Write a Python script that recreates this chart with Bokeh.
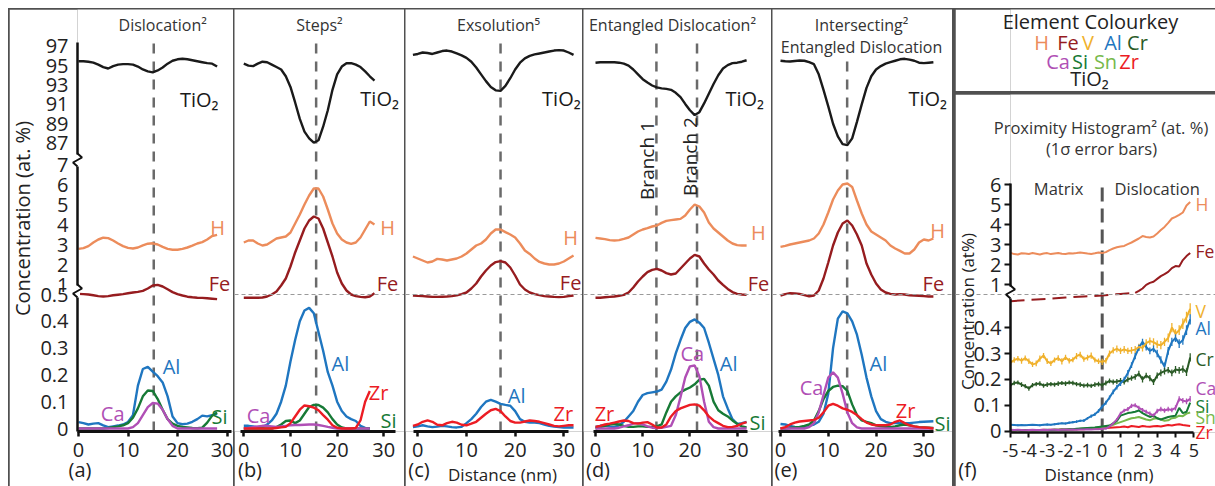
import math
from bokeh.plotting import figure
from bokeh.models import Range1d, FixedTicker, Span, Label
from bokeh.layouts import row, column
from bokeh.embed import file_html
from bokeh.resources import INLINE

# ======================= DATA =======================
X_TICKS = [0, 10, 20, 30]
TOP_TICKS = [97, 95, 93, 91, 89, 87]
MID_TICKS = [7, 6, 5, 4, 3, 2, 1]
LOW_TICKS = [0.5, 0.4, 0.3, 0.2, 0.1, 0]
F_X_TICKS = [-5, -4, -3, -2, -1, 0, 1, 2, 3, 4, 5]
F_MID_TICKS = [6, 5, 4, 3, 2, 1]
F_LOW_TICKS = [0.4, 0.3, 0.2, 0.1, 0]

# dislocation positions (nm)
DISLOC_A = [15.2]
DISLOC_B = [15.5]
DISLOC_C = [17.0]
DISLOC_D = [12.9, 21.5]
DISLOC_E = [13.95]
DISLOC_F = [0.0]

# ---- (a) Dislocation ----
A_X = [0, 1, 2, 3, 4, 5, 6, 7, 8, 9, 10, 11, 12, 13, 14, 15, 16, 17, 18, 19, 20, 21, 22, 23, 24, 25, 26, 27, 28]
A_TIO2 = [95.45, 95.45, 95.4, 95.3, 95.1, 94.85, 94.7, 94.95, 95.1, 95.15, 95.15, 95.1, 94.9, 94.6, 94.4, 94.3, 94.5, 94.8, 95.2, 95.5, 95.65, 95.7, 95.65, 95.55, 95.45, 95.35, 95.25, 95.2, 94.9]
A_H = [2.78, 2.82, 2.92, 3.1, 3.25, 3.34, 3.32, 3.2, 3.05, 2.92, 2.83, 2.8, 2.85, 2.96, 3.04, 3.06, 3.0, 2.88, 2.78, 2.74, 2.74, 2.78, 2.85, 2.94, 3.05, 3.12, 3.25, 3.42, 3.48]
A_FE = [0.53, 0.52, 0.5, 0.46, 0.42, 0.4, 0.42, 0.46, 0.49, 0.52, 0.56, 0.6, 0.63, 0.68, 0.8, 0.95, 0.98, 0.9, 0.76, 0.62, 0.52, 0.45, 0.39, 0.36, 0.34, 0.33, 0.31, 0.29, 0.27]
A_AL = [0.024, 0.02, 0.015, 0.018, 0.02, 0.012, 0.005, 0.008, 0.011, 0.015, 0.024, 0.05, 0.16, 0.222, 0.23, 0.212, 0.195, 0.172, 0.12, 0.045, 0.02, 0.016, 0.018, 0.025, 0.035, 0.048, 0.045, 0.05, 0.055]
A_SI = [0, 0, 0, 0, 0, 0, 0.002, 0.005, 0.008, 0.012, 0.02, 0.04, 0.075, 0.12, 0.142, 0.14, 0.11, 0.07, 0.035, 0.018, 0.01, 0.006, 0.004, 0.002, 0.001, 0.003, 0.022, 0.048, 0.06]
A_CA = [0, 0, 0, 0, 0, 0, 0, 0, 0, 0, 0, 0.005, 0.02, 0.05, 0.08, 0.095, 0.093, 0.07, 0.035, 0.01, 0, 0, 0, 0, 0, 0, 0, 0, 0]

# ---- (b) Steps ----
B_X = [0, 1, 2, 3, 4, 5, 6, 7, 8, 9, 10, 11, 12, 13, 14, 15, 16, 17, 18, 19, 20, 21, 22, 23, 24, 25, 26, 27, 28]
B_TIO2 = [95.2, 95.0, 94.95, 95.2, 95.4, 95.35, 95.1, 94.85, 94.6, 93.9, 92.8, 91.2, 89.5, 88.2, 87.5, 87.05, 87.3, 88.7, 90.4, 92.5, 94.1, 94.9, 95.25, 95.25, 95.1, 94.85, 94.4, 93.9, 93.45]
B_H = [3.1, 3.2, 3.2, 3.05, 2.95, 3.0, 3.15, 3.3, 3.35, 3.4, 3.6, 4.05, 4.5, 5.0, 5.45, 5.8, 5.8, 5.4, 4.75, 4.05, 3.55, 3.25, 3.1, 3.03, 3.1, 3.35, 3.75, 4.15, 4.0]
B_FE = [0.34, 0.34, 0.34, 0.34, 0.35, 0.4, 0.5, 0.65, 0.95, 1.3, 1.9, 2.6, 3.2, 3.8, 4.2, 4.4, 4.3, 3.8, 3.1, 2.4, 1.6, 1.05, 0.7, 0.5, 0.42, 0.38, 0.36, 0.4, 0.56]
B_XL = [0, 1, 2, 3, 4, 5, 6, 7, 8, 9, 10, 11, 12, 13, 14, 15, 16, 17, 18, 19, 20, 21, 22, 23, 24, 25, 26, 27]
B_AL = [0.01, 0.01, 0.008, 0.004, 0.005, 0.015, 0.03, 0.055, 0.1, 0.16, 0.25, 0.33, 0.4, 0.44, 0.45, 0.43, 0.36, 0.29, 0.21, 0.16, 0.1, 0.065, 0.045, 0.035, 0.028, 0.01, 0.002, 0.0]
B_ZR = [0, 0, 0, 0, 0, 0, 0, 0.002, 0.004, 0.006, 0.02, 0.045, 0.07, 0.086, 0.083, 0.078, 0.068, 0.05, 0.033, 0.012, 0.003, 0.0, 0.0, 0.0, 0.002, 0.03, 0.1, 0.14]
B_SI = [0, 0, 0, 0, 0, 0, 0, 0.005, 0.015, 0.028, 0.03, 0.02, 0.03, 0.055, 0.08, 0.088, 0.088, 0.078, 0.06, 0.035, 0.015, 0.004, 0, 0, 0, 0, 0, 0]
B_CA = [0.0, 0.002, 0.005, 0.008, 0.01, 0.01, 0.008, 0.006, 0.008, 0.01, 0.012, 0.013, 0.013, 0.014, 0.015, 0.015, 0.013, 0.01, 0.006, 0.003, 0.0, 0, 0, 0, 0, 0, 0, 0]

# ---- (c) Exsolution ----
C_X = [-1, 0, 1, 2, 3, 4, 5, 6, 7, 8, 9, 10, 11, 12, 13, 14, 15, 16, 17, 18, 19, 20, 21, 22, 23, 24, 25, 26, 27, 28, 29, 30, 31, 32]
C_TIO2 = [96.1, 96.2, 96.35, 96.3, 96.2, 96.35, 96.5, 96.55, 96.45, 96.25, 96.05, 95.8, 95.4, 94.8, 94.1, 93.4, 92.8, 92.45, 92.4, 92.9, 93.7, 94.6, 95.3, 95.75, 96.0, 96.15, 96.25, 96.35, 96.45, 96.55, 96.6, 96.55, 96.35, 96.1]
C_H = [2.4, 2.3, 2.2, 2.1, 2.15, 2.28, 2.25, 2.2, 2.25, 2.3, 2.4, 2.55, 2.75, 2.95, 3.05, 3.25, 3.55, 3.75, 3.75, 3.62, 3.5, 3.35, 3.05, 2.7, 2.53, 2.3, 2.13, 2.05, 2.0, 2.0, 2.05, 2.15, 2.3, 2.45]
C_FE = [0.45, 0.43, 0.42, 0.4, 0.38, 0.38, 0.39, 0.4, 0.42, 0.46, 0.52, 0.6, 0.8, 1.05, 1.4, 1.7, 1.95, 2.12, 2.17, 2.1, 1.85, 1.45, 1.0, 0.75, 0.6, 0.52, 0.47, 0.42, 0.4, 0.38, 0.37, 0.38, 0.42, 0.45]
C_AL = [0.005, 0.008, 0.012, 0.008, 0.005, 0.007, 0.01, 0.008, 0.005, 0.004, 0.006, 0.02, 0.035, 0.055, 0.08, 0.1, 0.107, 0.1, 0.092, 0.088, 0.085, 0.065, 0.035, 0.025, 0.022, 0.022, 0.02, 0.015, 0.01, 0.007, 0.005, 0.004, 0.004, 0.004]
C_ZR = [0.01, 0.015, 0.025, 0.03, 0.025, 0.014, 0.012, 0.02, 0.025, 0.022, 0.014, 0.012, 0.018, 0.025, 0.04, 0.055, 0.068, 0.073, 0.065, 0.045, 0.028, 0.022, 0.022, 0.026, 0.03, 0.028, 0.025, 0.02, 0.015, 0.01, 0.008, 0.01, 0.012, 0.012]

# ---- (d) Entangled dislocation ----
D_X = [0, 1, 2, 3, 4, 5, 6, 7, 8, 9, 10, 11, 12, 13, 14, 15, 16, 17, 18, 19, 20, 21, 22, 23, 24, 25, 26, 27, 28, 29, 30, 31, 32]
D_TIO2 = [95.3, 95.35, 95.35, 95.35, 95.35, 95.3, 95.2, 95.0, 94.6, 94.1, 93.6, 93.25, 92.95, 92.75, 92.65, 92.6, 92.5, 92.2, 91.75, 91.05, 90.4, 89.9, 90.2, 91.1, 92.1, 93.1, 94.0, 94.7, 95.05, 95.25, 95.3, 95.4, 95.55]
D_H = [3.33, 3.3, 3.27, 3.22, 3.2, 3.22, 3.28, 3.35, 3.5, 3.65, 3.75, 3.82, 3.9, 3.95, 4.08, 4.18, 4.22, 4.25, 4.28, 4.45, 4.75, 5.0, 4.9, 4.6, 4.1, 3.8, 3.6, 3.4, 3.2, 3.05, 2.97, 2.95, 2.95]
D_FE = [0.34, 0.34, 0.36, 0.38, 0.4, 0.44, 0.48, 0.6, 0.85, 1.15, 1.4, 1.62, 1.73, 1.78, 1.7, 1.57, 1.5, 1.55, 1.8, 2.05, 2.3, 2.48, 2.4, 2.05, 1.75, 1.5, 1.2, 0.98, 0.78, 0.62, 0.53, 0.5, 0.48]
D_AL = [0.006, 0.01, 0.011, 0.007, 0.005, 0.012, 0.025, 0.045, 0.065, 0.1, 0.125, 0.132, 0.135, 0.138, 0.145, 0.175, 0.22, 0.28, 0.33, 0.375, 0.398, 0.407, 0.395, 0.375, 0.32, 0.26, 0.2, 0.12, 0.075, 0.035, 0.017, 0.02, 0.025]
D_CA = [0, 0, 0, 0, 0, 0.003, 0.008, 0.012, 0.018, 0.02, 0.015, 0.008, 0.003, 0.002, 0.003, 0.006, 0.01, 0.05, 0.117, 0.19, 0.232, 0.235, 0.195, 0.1, 0.025, 0.005, 0, 0, 0, 0, 0, 0, 0]
D_SI = [0.0, 0.005, 0.01, 0.015, 0.017, 0.015, 0.01, 0.006, 0.006, 0.008, 0.008, 0.006, 0.006, 0.008, 0.015, 0.06, 0.1, 0.12, 0.135, 0.145, 0.153, 0.165, 0.182, 0.185, 0.16, 0.1, 0.068, 0.055, 0.045, 0.03, 0.018, 0.008, 0.004]
D_ZR = [0.006, 0.01, 0.015, 0.018, 0.022, 0.026, 0.03, 0.028, 0.02, 0.018, 0.022, 0.024, 0.015, 0.004, 0.004, 0.015, 0.045, 0.065, 0.075, 0.082, 0.088, 0.09, 0.085, 0.068, 0.045, 0.03, 0.02, 0.01, 0.005, 0.006, 0.01, 0.018, 0.024]

# ---- (e) Intersecting entangled dislocation ----
E_X = [0, 1, 2, 3, 4, 5, 6, 7, 8, 9, 10, 11, 12, 13, 14, 15, 16, 17, 18, 19, 20, 21, 22, 23, 24, 25, 26, 27, 28, 29, 30, 31, 32]
E_TIO2 = [95.5, 95.45, 95.42, 95.48, 95.52, 95.5, 95.35, 95.15, 94.1, 92.5, 90.8, 89.0, 87.7, 86.9, 86.8, 87.5, 89.2, 91.0, 92.7, 93.9, 94.6, 94.95, 95.2, 95.35, 95.5, 95.65, 95.7, 95.62, 95.5, 95.3, 95.25, 95.3, 95.35]
E_H = [2.88, 2.93, 3.0, 3.05, 3.1, 3.15, 3.2, 3.3, 3.55, 4.0, 4.6, 5.25, 5.7, 6.0, 6.05, 5.88, 5.2, 4.55, 4.0, 3.65, 3.5, 3.35, 3.2, 2.95, 2.8, 2.68, 2.55, 2.55, 2.75, 3.1, 3.25, 3.2, 3.3]
E_FE = [0.45, 0.52, 0.56, 0.55, 0.53, 0.47, 0.41, 0.45, 0.7, 1.3, 2.1, 2.95, 3.6, 4.05, 4.2, 3.95, 3.5, 2.95, 2.05, 1.5, 1.05, 0.75, 0.6, 0.53, 0.5, 0.52, 0.5, 0.46, 0.45, 0.44, 0.42, 0.4, 0.4]
E_AL = [0.017, 0.015, 0.01, 0.006, 0.005, 0.006, 0.01, 0.015, 0.025, 0.055, 0.13, 0.3, 0.41, 0.437, 0.43, 0.4, 0.35, 0.275, 0.19, 0.12, 0.065, 0.035, 0.025, 0.02, 0.02, 0.02, 0.02, 0.02, 0.022, 0.024, 0.025, 0.026, 0.027]
E_CA = [0, 0, 0, 0, 0, 0, 0.005, 0.02, 0.06, 0.125, 0.19, 0.21, 0.19, 0.13, 0.06, 0.02, 0.004, 0, 0, 0, 0, 0, 0, 0, 0, 0, 0, 0, 0, 0, 0, 0, 0]
E_SI = [0.0, 0.0, 0.002, 0.004, 0.006, 0.01, 0.015, 0.03, 0.065, 0.11, 0.14, 0.155, 0.16, 0.158, 0.14, 0.09, 0.05, 0.03, 0.025, 0.02, 0.012, 0.008, 0.006, 0.005, 0.008, 0.012, 0.015, 0.012, 0.008, 0.005, 0.004, 0.003, 0.002]
E_ZR = [0.0, 0.005, 0.015, 0.022, 0.026, 0.028, 0.03, 0.032, 0.04, 0.06, 0.085, 0.092, 0.085, 0.075, 0.07, 0.062, 0.05, 0.035, 0.022, 0.015, 0.012, 0.012, 0.012, 0.015, 0.025, 0.03, 0.02, 0.012, 0.008, 0.005, 0.004, 0.003, 0.0]

# ---- (f) Proximity histogram ----
F_X = [-5.0, -4.8, -4.6, -4.4, -4.2, -4.0, -3.8, -3.6, -3.4, -3.2, -3.0, -2.8, -2.6, -2.4, -2.2, -2.0, -1.8, -1.6, -1.4, -1.2,
       -1.0, -0.8, -0.6, -0.4, -0.2, 0.0, 0.2, 0.4, 0.6, 0.8, 1.0, 1.2, 1.4, 1.6, 1.8, 2.0, 2.2, 2.4, 2.6, 2.8,
       3.0, 3.2, 3.4, 3.6, 3.8, 4.0, 4.2, 4.4, 4.6, 4.8]
F_H = [2.58, 2.52, 2.5, 2.56, 2.55, 2.53, 2.57, 2.54, 2.5, 2.55, 2.57, 2.52, 2.55, 2.58, 2.54, 2.52, 2.56, 2.55, 2.57, 2.6,
       2.58, 2.55, 2.53, 2.56, 2.6, 2.57, 2.62, 2.72, 2.8, 2.86, 2.9, 2.93, 3.02, 3.1, 3.2, 3.3, 3.42, 3.38, 3.35, 3.4,
       3.55, 3.72, 3.88, 4.08, 4.3, 4.38, 4.48, 4.6, 4.95, 5.12]
F_FE_X_LOW = [-5.0, -4.0, -3.0, -2.0, -1.0, 0.0, 1.0, 1.8]
F_FE_LOW = [0.502, 0.507, 0.511, 0.516, 0.52, 0.524, 0.53, 0.534]
F_FE_X_MID = [1.8, 2.0, 2.2, 2.4, 2.6, 2.8, 3.0, 3.2, 3.4, 3.6, 3.8, 4.0, 4.2, 4.4, 4.6, 4.8]
F_FE_MID = [0.58, 0.68, 0.8, 0.98, 1.08, 1.14, 1.28, 1.42, 1.52, 1.63, 1.82, 1.92, 1.9, 2.22, 2.42, 2.58]
F_V = [0.265, 0.275, 0.28, 0.272, 0.282, 0.27, 0.258, 0.262, 0.28, 0.292, 0.27, 0.262, 0.275, 0.282, 0.27, 0.285, 0.272, 0.276, 0.29, 0.296,
       0.278, 0.284, 0.292, 0.275, 0.27, 0.268, 0.272, 0.3, 0.312, 0.318, 0.31, 0.316, 0.31, 0.312, 0.315, 0.325, 0.322, 0.34, 0.348, 0.344,
       0.335, 0.332, 0.345, 0.36, 0.4, 0.376, 0.39, 0.415, 0.44, 0.472]
F_AL = [0.025, 0.024, 0.023, 0.024, 0.023, 0.024, 0.025, 0.024, 0.023, 0.025, 0.026, 0.025, 0.027, 0.029, 0.031, 0.03, 0.033, 0.035, 0.037, 0.04,
        0.041, 0.05, 0.058, 0.065, 0.078, 0.095, 0.11, 0.13, 0.152, 0.17, 0.185, 0.2, 0.225, 0.255, 0.29, 0.322, 0.345, 0.325, 0.31, 0.318,
        0.3, 0.275, 0.25, 0.31, 0.345, 0.36, 0.338, 0.352, 0.39, 0.432]
F_CR = [0.178, 0.186, 0.188, 0.18, 0.174, 0.165, 0.178, 0.182, 0.184, 0.176, 0.18, 0.182, 0.18, 0.184, 0.186, 0.184, 0.188, 0.186, 0.182, 0.18,
        0.176, 0.178, 0.175, 0.18, 0.182, 0.178, 0.186, 0.194, 0.19, 0.192, 0.195, 0.19, 0.2, 0.205, 0.21, 0.222, 0.2, 0.215, 0.205, 0.19,
        0.215, 0.225, 0.232, 0.236, 0.225, 0.238, 0.235, 0.24, 0.228, 0.285]
F_CA = [0.006, 0.005, 0.006, 0.005, 0.004, 0.005, 0.006, 0.005, 0.005, 0.006, 0.005, 0.006, 0.006, 0.005, 0.006, 0.007, 0.006, 0.007, 0.006, 0.007,
        0.007, 0.008, 0.007, 0.008, 0.008, 0.009, 0.01, 0.018, 0.03, 0.045, 0.068, 0.08, 0.085, 0.098, 0.1, 0.09, 0.082, 0.075, 0.068, 0.06,
        0.078, 0.085, 0.08, 0.085, 0.082, 0.09, 0.125, 0.118, 0.115, 0.125]
F_SI = [0.004, 0.004, 0.005, 0.004, 0.004, 0.005, 0.005, 0.004, 0.005, 0.005, 0.006, 0.005, 0.006, 0.006, 0.007, 0.007, 0.008, 0.008, 0.009, 0.01,
        0.011, 0.012, 0.013, 0.014, 0.016, 0.018, 0.02, 0.022, 0.03, 0.04, 0.06, 0.065, 0.07, 0.072, 0.075, 0.08, 0.07, 0.062, 0.055, 0.06,
        0.05, 0.045, 0.05, 0.055, 0.058, 0.06, 0.09, 0.07, 0.075, 0.11]
F_SN = [0.003, 0.003, 0.004, 0.003, 0.004, 0.004, 0.003, 0.004, 0.004, 0.005, 0.005, 0.005, 0.006, 0.005, 0.006, 0.007, 0.007, 0.008, 0.008, 0.009,
        0.01, 0.011, 0.012, 0.013, 0.015, 0.016, 0.018, 0.02, 0.025, 0.03, 0.035, 0.04, 0.045, 0.05, 0.052, 0.055, 0.05, 0.045, 0.042, 0.048,
        0.05, 0.045, 0.04, 0.042, 0.05, 0.052, 0.06, 0.058, 0.068, 0.072]
F_ZR = [0.004, 0.004, 0.005, 0.004, 0.005, 0.005, 0.004, 0.005, 0.005, 0.006, 0.005, 0.006, 0.006, 0.006, 0.007, 0.006, 0.007, 0.007, 0.008, 0.008,
        0.008, 0.009, 0.009, 0.01, 0.01, 0.011, 0.012, 0.013, 0.014, 0.015, 0.016, 0.018, 0.015, 0.02, 0.018, 0.016, 0.02, 0.018, 0.017, 0.019,
        0.02, 0.018, 0.021, 0.024, 0.022, 0.025, 0.027, 0.024, 0.022, 0.02]
F_V_ERR = [0.010, 0.011, 0.010, 0.012, 0.010, 0.011, 0.010, 0.011, 0.012, 0.010, 0.011, 0.010, 0.010, 0.011, 0.012, 0.010, 0.011, 0.010, 0.012, 0.011,
           0.010, 0.011, 0.012, 0.010, 0.011, 0.012, 0.011, 0.012, 0.012, 0.013, 0.012, 0.013, 0.012, 0.013, 0.014, 0.013, 0.014, 0.015, 0.014, 0.015,
           0.015, 0.016, 0.016, 0.017, 0.018, 0.018, 0.019, 0.020, 0.021, 0.022]
F_AL_ERR = [0.003, 0.003, 0.004, 0.003, 0.003, 0.004, 0.003, 0.003, 0.004, 0.003, 0.004, 0.003, 0.004, 0.004, 0.003, 0.004, 0.004, 0.004, 0.005, 0.004,
            0.005, 0.005, 0.006, 0.006, 0.007, 0.007, 0.008, 0.008, 0.009, 0.009, 0.01, 0.01, 0.011, 0.011, 0.012, 0.012, 0.012, 0.013, 0.013, 0.013,
            0.014, 0.014, 0.015, 0.015, 0.016, 0.016, 0.017, 0.018, 0.019, 0.02]
F_CR_ERR = [0.008, 0.009, 0.008, 0.009, 0.008, 0.009, 0.008, 0.008, 0.009, 0.008, 0.009, 0.008, 0.008, 0.009, 0.008, 0.009, 0.008, 0.009, 0.008, 0.009,
            0.008, 0.009, 0.008, 0.009, 0.009, 0.009, 0.01, 0.009, 0.01, 0.01, 0.01, 0.01, 0.011, 0.01, 0.011, 0.011, 0.012, 0.011, 0.012, 0.012,
            0.012, 0.013, 0.013, 0.012, 0.013, 0.014, 0.013, 0.014, 0.015, 0.016]
F_CA_ERR = [0.002, 0.002, 0.002, 0.002, 0.002, 0.002, 0.002, 0.002, 0.002, 0.002, 0.002, 0.002, 0.002, 0.002, 0.002, 0.002, 0.002, 0.002, 0.002, 0.002,
            0.002, 0.002, 0.002, 0.002, 0.002, 0.003, 0.003, 0.004, 0.005, 0.006, 0.007, 0.007, 0.008, 0.008, 0.008, 0.008, 0.008, 0.008, 0.008, 0.008,
            0.009, 0.009, 0.009, 0.009, 0.009, 0.01, 0.01, 0.01, 0.011, 0.011]

# ======================= STYLE / LAYOUT =======================
FONT = "Open Sans"
COL_TIO2 = "#1a1a1a"; COL_H = "#ec8c5b"; COL_FE = "#961c1f"; COL_AL = "#1f76c0"; COL_SI = "#177a36"
COL_CA = "#b04fb5"; COL_ZR = "#ec1c24"; COL_V = "#f0b12c"; COL_CR = "#2a5a26"; COL_SN = "#77b94b"
TXT = "#222222"
TITLE_C = "#333333"
DASH_C = "#6a6a6a"

FIG_H = 477
FRAME_H = 422
PAGE_BOTTOM = 431          # page y of frame bottom for panels a-e
BREAK_Y = 294              # page y of the axis break line
SEG_ANCHORS = {"top": ((97, 45.7), (87, 142.7)), "mid": ((0.5, 294), (7, 164)), "low": ((0, 428), (0.5, 294))}

F_FIG_H = 392
F_FRAME_H = 338
F_PAGE_BOTTOM = 432
F_SEG_ANCHORS = {"mid": ((0.5, 294), (6, 184)), "low": ((0, 430.7), (0.5, 301.2))}

LAY = {
    "a": dict(fig_x=9, width=224, frame_x=77, x0=78.0, ppn=4.95, xb=(-0.2, 30.9)),
    "b": dict(fig_x=234, width=170, frame_x=234, x0=243.3, ppn=4.667, xb=(-0.7, 32.5)),
    "c": dict(fig_x=405, width=177, frame_x=405, x0=417.3, ppn=4.867, xb=(-0.9, 31.0)),
    "d": dict(fig_x=583, width=188, frame_x=583, x0=595.0, ppn=4.722, xb=(-0.4, 32.2)),
    "e": dict(fig_x=772, width=180, frame_x=772, x0=780.0, ppn=4.778, xb=(-0.4, 32.0)),
}
ROW_X, ROW_Y, ROW_W, ROW_H = 8, 8, 1207, 478


def seg_maps(anchors, page_bottom):
    (v1, y1), (v2, y2) = anchors
    m1, m2 = page_bottom - y1, page_bottom - y2
    k = (v2 - v1) / (m2 - m1)
    return (lambda m: v1 + (m - m1) * k), (lambda v: m1 + (v - v1) / k)


def add_label(p, text, x, y, rn="default", color=TXT, size="20px", align="center", angle=0.0):
    p.add_layout(Label(x=x, y=y, y_range_name=rn, text=text, text_color=color, text_font=FONT,
                       text_font_size=size, text_align=align, text_baseline="middle", angle=angle))


def style_xaxis(xa, ticks, bounds, size):
    xa.ticker = FixedTicker(ticks=ticks, minor_ticks=[])
    xa.bounds = bounds
    xa.axis_line_width = 3
    xa.axis_line_color = "#111111"
    xa.major_tick_out = 5
    xa.major_tick_in = 0
    xa.major_tick_line_width = 2.5
    xa.major_tick_line_color = "#111111"
    xa.major_label_text_font = FONT
    xa.major_label_text_font_size = size
    xa.major_label_text_color = TXT
    xa.major_label_standoff = 6


def make_panel(key, series, disloc, dash_top, labels, titles, title_x, has_axis=False, hbreak=True):
    lay = LAY[key]
    fl = lay["frame_x"]
    x_start = (fl - lay["x0"]) / lay["ppn"]
    x_end = (lay["fig_x"] + lay["width"] - lay["x0"]) / lay["ppn"]
    p = figure(width=lay["width"], height=FIG_H, x_range=Range1d(x_start, x_end), y_range=Range1d(0, FRAME_H),
               output_backend="svg", toolbar_location=None, y_axis_location="left" if has_axis else None,
               min_border_left=fl - lay["fig_x"], min_border_right=0, min_border_top=0,
               min_border_bottom=FIG_H - FRAME_H, margin=(1, 0, 0, 1))
    p.outline_line_color = None
    p.background_fill_color = "white"
    p.border_fill_color = "white"
    p.grid.visible = False
    maps = {k: seg_maps(a, PAGE_BOTTOM) for k, a in SEG_ANCHORS.items()}
    p.extra_y_ranges = {k: Range1d(f[0](0), f[0](FRAME_H)) for k, f in maps.items()}
    style_xaxis(p.xaxis[0], X_TICKS, lay["xb"], "20px")

    if has_axis:
        ticks, over = [], {}
        for seg, tl in (("top", TOP_TICKS), ("mid", MID_TICKS), ("low", LOW_TICKS)):
            for v in tl:
                m = round(maps[seg][1](v), 3)
                ticks.append(m)
                over[m] = f"{v:g}"
        ya = p.yaxis[0]
        ya.ticker = FixedTicker(ticks=ticks, minor_ticks=[])
        ya.major_label_overrides = over
        ya.bounds = (0, PAGE_BOTTOM - 41.7)
        ya.axis_line_width = 2.5
        ya.axis_line_color = "#111111"
        ya.major_tick_out = 0
        ya.major_tick_in = 0
        ya.major_label_text_font = FONT
        ya.major_label_text_font_size = "20px"
        ya.major_label_text_color = TXT
        ya.major_label_standoff = 9

    if hbreak:
        p.add_layout(Span(location=PAGE_BOTTOM - BREAK_Y, dimension="width", line_color="#9a9a9a",
                          line_dash="4 3", line_width=1))

    for dpos in disloc:
        p.segment(x0=[dpos], y0=[0], x1=[dpos], y1=[dash_top], line_color=DASH_C, line_width=2.5, line_dash="10 8")

    for xs, ys, rn, c in series:
        p.line(xs, ys, y_range_name=rn, line_color=c, line_width=2.4)

    for txt, x, y, rn, c in labels:
        add_label(p, txt, x, y, rn, c)

    for i, t in enumerate(titles):
        add_label(p, t, title_x, FRAME_H - 15 - i * 22.7, color=TITLE_C, size="16px")
    return p


pa = make_panel("a",
    [(A_X, A_TIO2, "top", COL_TIO2), (A_X, A_H, "mid", COL_H), (A_X, A_FE, "mid", COL_FE),
     (A_X, A_AL, "low", COL_AL), (A_X, A_SI, "low", COL_SI), (A_X, A_CA, "low", COL_CA)],
    DISLOC_A, PAGE_BOTTOM - 41.7,
    [("TiO₂", 24.4, 91.5, "top", COL_TIO2), ("H", 28.1, 3.85, "mid", COL_H), ("Fe", 28.5, 1.07, "mid", COL_FE),
     ("Al", 18.8, 0.232, "low", COL_AL), ("Ca", 6.9, 0.055, "low", COL_CA), ("Si", 28.5, 0.045, "low", COL_SI)],
    ["Dislocation²"], 17.0, has_axis=True, hbreak=False)

pb = make_panel("b",
    [(B_X, B_TIO2, "top", COL_TIO2), (B_X, B_H, "mid", COL_H), (B_X, B_FE, "mid", COL_FE),
     (B_XL, B_AL, "low", COL_AL), (B_XL, B_SI, "low", COL_SI), (B_XL, B_CA, "low", COL_CA), (B_XL, B_ZR, "low", COL_ZR)],
    DISLOC_B, PAGE_BOTTOM - 41.7,
    [("TiO₂", 29.1, 91.58, "top", COL_TIO2), ("H", 30.8, 3.87, "mid", COL_H), ("Fe", 30.8, 1.07, "mid", COL_FE),
     ("Al", 20.7, 0.241, "low", COL_AL), ("Zr", 28.9, 0.135, "low", COL_ZR), ("Si", 31.0, 0.03, "low", COL_SI),
     ("Ca", 3.15, 0.049, "low", COL_CA)],
    ["Steps²"], 16.2)

pc = make_panel("c",
    [(C_X, C_TIO2, "top", COL_TIO2), (C_X, C_H, "mid", COL_H), (C_X, C_FE, "mid", COL_FE),
     (C_X, C_AL, "low", COL_AL), (C_X, C_ZR, "low", COL_ZR)],
    DISLOC_C, PAGE_BOTTOM - 41.7,
    [("TiO₂", 29.5, 91.58, "top", COL_TIO2), ("H", 31.4, 3.37, "mid", COL_H), ("Fe", 31.4, 1.12, "mid", COL_FE),
     ("Al", 20.3, 0.123, "low", COL_AL), ("Zr", 29.9, 0.055, "low", COL_ZR)],
    ["Exsolution⁵"], 16.6)

pd = make_panel("d",
    [(D_X, D_TIO2, "top", COL_TIO2), (D_X, D_H, "mid", COL_H), (D_X, D_FE, "mid", COL_FE),
     (D_X, D_AL, "low", COL_AL), (D_X, D_SI, "low", COL_SI), (D_X, D_CA, "low", COL_CA), (D_X, D_ZR, "low", COL_ZR)],
    DISLOC_D, PAGE_BOTTOM - 41.7,
    [("TiO₂", 31.6, 91.58, "top", COL_TIO2), ("H", 34.5, 3.62, "mid", COL_H), ("Fe", 34.5, 1.07, "mid", COL_FE),
     ("Al", 28.2, 0.241, "low", COL_AL), ("Ca", 20.5, 0.279, "low", COL_CA), ("Zr", 1.9, 0.055, "low", COL_ZR),
     ("Si", 34.3, 0.024, "low", COL_SI)],
    ["Entangled Dislocation²"], 16.3)
add_label(pd, "Branch 1", 11.0, PAGE_BOTTOM - 160, size="19px", angle=math.pi / 2)
add_label(pd, "Branch 2", 20.1, PAGE_BOTTOM - 156, size="19px", angle=math.pi / 2)

pe = make_panel("e",
    [(E_X, E_TIO2, "top", COL_TIO2), (E_X, E_H, "mid", COL_H), (E_X, E_FE, "mid", COL_FE),
     (E_X, E_AL, "low", COL_AL), (E_X, E_SI, "low", COL_SI), (E_X, E_CA, "low", COL_CA), (E_X, E_ZR, "low", COL_ZR)],
    DISLOC_E, PAGE_BOTTOM - 55,
    [("TiO₂", 30.8, 91.58, "top", COL_TIO2), ("H", 32.9, 3.7, "mid", COL_H), ("Fe", 32.0, 1.07, "mid", COL_FE),
     ("Al", 20.5, 0.241, "low", COL_AL), ("Ca", 6.5, 0.154, "low", COL_CA), ("Zr", 26.2, 0.067, "low", COL_ZR),
     ("Si", 33.9, 0.018, "low", COL_SI)],
    ["Intersecting²", "Entangled Dislocation"], 16.95)

# ---------------- colour-key box (texts live on the overlay) ----------------
pk = figure(width=260, height=82, x_range=Range1d(0, 1), y_range=Range1d(0, 1), output_backend="svg",
            toolbar_location=None, x_axis_location=None, y_axis_location=None,
            min_border_left=0, min_border_right=0, min_border_top=0, min_border_bottom=0, margin=(1, 0, 0, 0))
pk.outline_line_color = None
pk.grid.visible = False

# ---------------- proximity histogram ----------------
F_X0 = 1101.7; F_PPN = 18.33; F_FRAME_X = 1010; F_FIG_X = 955; F_FIG_W = 260
fmaps = {k: seg_maps(a, F_PAGE_BOTTOM) for k, a in F_SEG_ANCHORS.items()}
pf = figure(width=F_FIG_W, height=F_FIG_H,
            x_range=Range1d((F_FRAME_X - F_X0) / F_PPN, (F_FIG_X + F_FIG_W - F_X0) / F_PPN),
            y_range=Range1d(0, F_FRAME_H), output_backend="svg", toolbar_location=None,
            min_border_left=F_FRAME_X - F_FIG_X, min_border_right=0, min_border_top=0,
            min_border_bottom=F_FIG_H - F_FRAME_H, margin=(3, 0, 0, 0))
pf.outline_line_color = None
pf.grid.visible = False
pf.extra_y_ranges = {k: Range1d(f[0](0), f[0](F_FRAME_H)) for k, f in fmaps.items()}

fx = pf.xaxis[0]
style_xaxis(fx, F_X_TICKS, (-5, 5), "18px")
fx.axis_line_width = 2.5
fx.major_tick_line_width = 2
fx.major_label_overrides = {t: ("-" + str(-t) if t < 0 else str(t)) for t in F_X_TICKS}

fticks, fover = [], {}
for seg, tl in (("mid", F_MID_TICKS), ("low", F_LOW_TICKS)):
    for v in tl:
        m = round(fmaps[seg][1](v), 3)
        fticks.append(m)
        fover[m] = f"{v:g}"
fy = pf.yaxis[0]
fy.ticker = FixedTicker(ticks=fticks, minor_ticks=[])
fy.major_label_overrides = fover
fy.bounds = (0, F_PAGE_BOTTOM - 183)
fy.axis_line_width = 2.5
fy.axis_line_color = "#111111"
fy.major_tick_out = 6
fy.major_tick_in = 0
fy.major_tick_line_width = 2
fy.major_tick_line_color = "#111111"
fy.major_label_text_font = FONT
fy.major_label_text_font_size = "20px"
fy.major_label_text_color = TXT
fy.major_label_standoff = 3

pf.add_layout(Span(location=F_PAGE_BOTTOM - BREAK_Y, dimension="width", line_color="#9a9a9a",
                   line_dash="4 3", line_width=1))
for dpos in DISLOC_F:
    pf.segment(x0=[dpos], y0=[0], x1=[dpos], y1=[F_PAGE_BOTTOM - 181.7], line_color="#555555",
               line_width=3, line_dash="14 7")

pf.line(F_X, F_H, y_range_name="mid", line_color=COL_H, line_width=2)
pf.line(F_FE_X_LOW, F_FE_LOW, y_range_name="low", line_color=COL_FE, line_width=2, line_dash="14 7")
pf.line(F_FE_X_MID, F_FE_MID, y_range_name="mid", line_color=COL_FE, line_width=2)
for ys, errs, c in [(F_V, F_V_ERR, COL_V), (F_AL, F_AL_ERR, COL_AL), (F_CR, F_CR_ERR, COL_CR), (F_CA, F_CA_ERR, COL_CA)]:
    pf.segment(x0=F_X, y0=[y - e for y, e in zip(ys, errs)], x1=F_X, y1=[y + e for y, e in zip(ys, errs)],
               y_range_name="low", line_color=c, line_width=1.3)
for ys, c in [(F_ZR, COL_ZR), (F_SN, COL_SN), (F_SI, COL_SI), (F_CA, COL_CA), (F_CR, COL_CR), (F_AL, COL_AL), (F_V, COL_V)]:
    pf.line(F_X, ys, y_range_name="low", line_color=c, line_width=2)

add_label(pf, "Matrix", -2.38, F_PAGE_BOTTOM - 188, color=TITLE_C, size="16.5px")
add_label(pf, "Dislocation", 3.0, F_PAGE_BOTTOM - 188, color=TITLE_C, size="16.5px")

# ---------------- transparent overlay for texts outside the plot frames ----------------
ov = figure(width=ROW_W, height=ROW_H, x_range=Range1d(0, ROW_W), y_range=Range1d(0, ROW_H),
            output_backend="svg", toolbar_location=None, x_axis_location=None, y_axis_location=None,
            min_border_left=0, min_border_right=0, min_border_top=0, min_border_bottom=0,
            margin=(-ROW_H, 0, 0, 0))
ov.outline_line_color = None
ov.background_fill_color = None
ov.border_fill_color = None
ov.grid.visible = False


def ov_x(px):
    return px - ROW_X


def ov_y(py):
    return ROW_Y + ROW_H - py


def ov_label(text, px, py, color=TXT, size="20px", angle=0.0, align="center"):
    add_label(ov, text, ov_x(px), ov_y(py), color=color, size=size, angle=angle, align=align)


def ov_zigzag(px, py):
    # axis-break symbol: blank the straight axis line, then draw a small zigzag across it
    ov.segment(x0=[ov_x(px)], y0=[ov_y(py - 6)], x1=[ov_x(px)], y1=[ov_y(py + 6)], line_color="white", line_width=5)
    ov.line([ov_x(px), ov_x(px + 4.5), ov_x(px - 4.5), ov_x(px)],
            [ov_y(py - 7), ov_y(py - 3), ov_y(py + 2), ov_y(py + 6)], line_color="#111111", line_width=2)


ov.segment(x0=[ov_x(955)], y0=[ov_y(BREAK_Y)], x1=[ov_x(F_FRAME_X)], y1=[ov_y(BREAK_Y)],
           line_color="#9a9a9a", line_dash="4 3", line_width=1)
ov_zigzag(77, 160)
ov_zigzag(77, 291)
ov_zigzag(F_FRAME_X, 292)

ov_label("Concentration (at. %)", 22, 218, angle=math.pi / 2)
for txt, px in [("(a)", 79.5), ("(b)", 249.5), ("(c)", 418.5), ("(d)", 597.5), ("(e)", 785.5), ("(f)", 967)]:
    ov_label(txt, px, 469)
ov_label("Distance (nm)", 502, 474, size="17px")
ov_label("Distance (nm)", 1098.5, 474, size="17px")
ov_label("Concentration (at%)", 967, 311, size="17px", angle=math.pi / 2)
ov_label("Proximity Histogram² (at. %)", 1100.5, 127, color=TITLE_C, size="16.5px")
ov_label("(1σ error bars)", 1101, 148, color=TITLE_C, size="16.5px")
ov_label("Element Colourkey", 1090, 20.7)
for txt, px, c in [("H", 1041, COL_H), ("Fe", 1067.5, COL_FE), ("V", 1087.5, COL_V), ("Al", 1112.5, COL_AL), ("Cr", 1137, COL_CR)]:
    ov_label(txt, px, 41.7, color=c)
for txt, px, c in [("Ca", 1057.5, COL_CA), ("Si", 1079.5, COL_SI), ("Sn", 1105, COL_SN), ("Zr", 1128.5, COL_ZR)]:
    ov_label(txt, px, 61, color=c)
ov_label("TiO₂", 1089, 78)

# element names at the right-hand ends of the proximity-histogram curves
for txt, py, c in [("H", 203, COL_H), ("Fe", 250, COL_FE), ("V", 310, COL_V), ("Al", 327, COL_AL),
                   ("Cr", 358, COL_CR), ("Ca", 387, COL_CA), ("Si", 405, COL_SI), ("Sn", 416, COL_SN),
                   ("Zr", 431, COL_ZR)]:
    ov_label(txt, 1195, py, color=c, size="17.5px", align="left")

colf = column(pk, pf, margin=(0, 0, 0, 3))
panels = row(pa, pb, pc, pd, pe, colf, styles={"background-color": "#505050"})
layout = column(panels, ov, margin=(ROW_Y, 0, 0, ROW_X))

open("out.html", "w").write(file_html(layout, INLINE))
